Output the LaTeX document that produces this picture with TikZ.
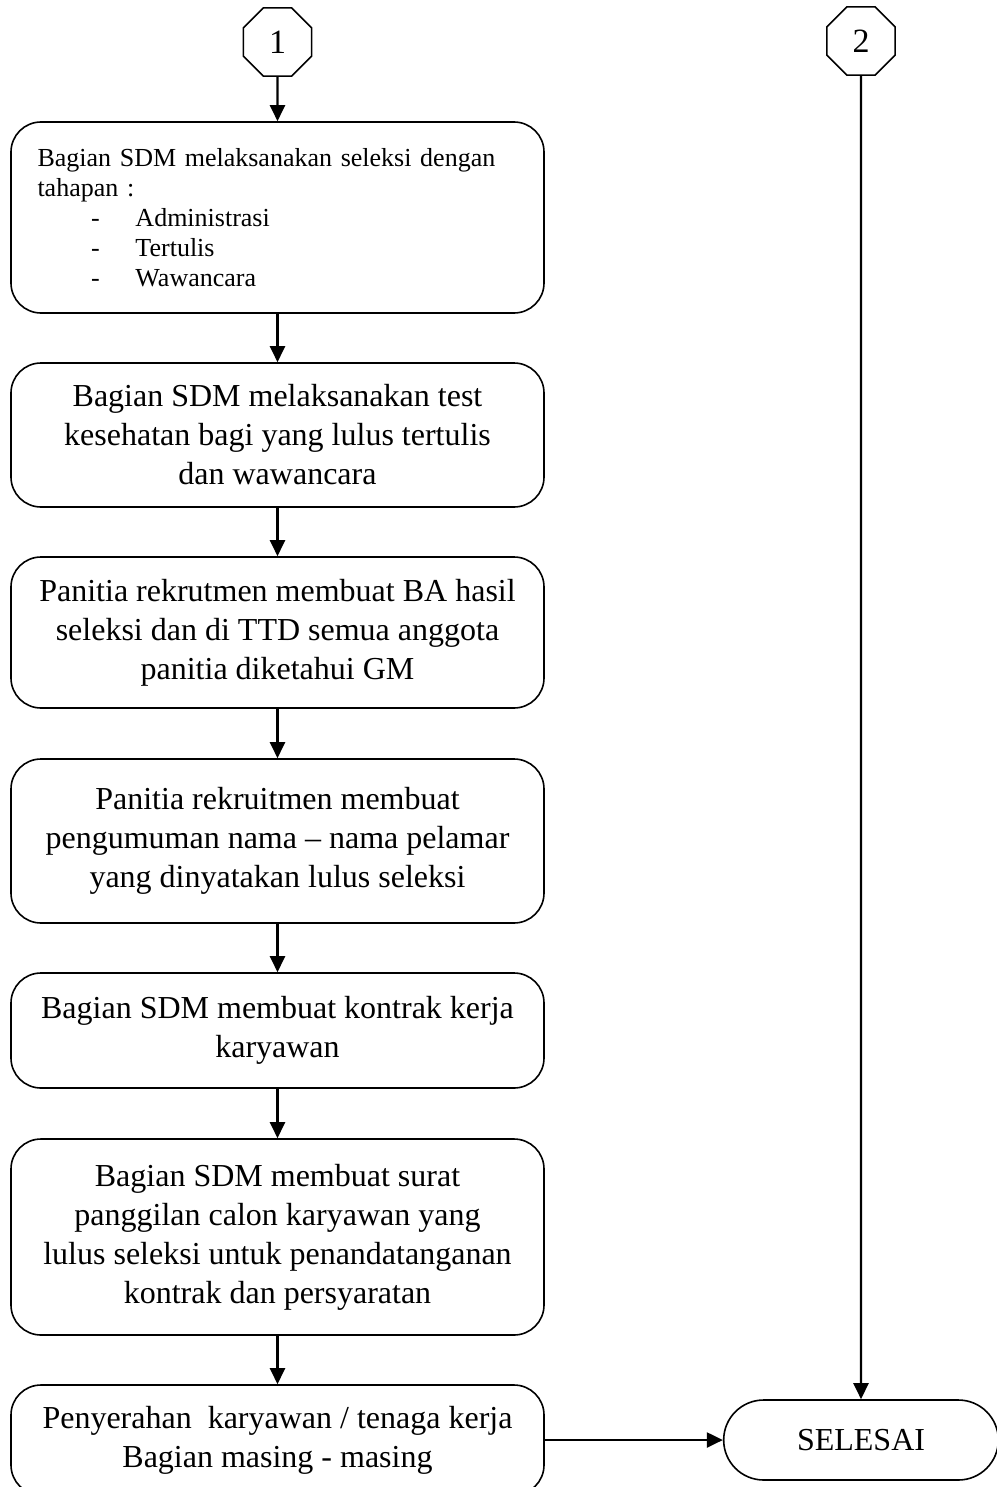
\documentclass[tikz,border=0pt]{standalone}
\usepackage{fontspec}
\setmainfont{Liberation Serif}
\usetikzlibrary{shapes.geometric,shapes.misc,arrows.meta}
\tikzset{
    procbox/.style={draw, line width=0.8pt, rounded corners=15pt, minimum width=266.5pt, minimum height=#1, align=center, font=\fontsize{16pt}{19.5pt}\selectfont},
    connector/.style={line width=1.1pt, -{Triangle[length=8pt,width=7.5pt]}},
    octa/.style={draw, line width=0.8pt, regular polygon, regular polygon sides=8, minimum size=37pt, inner sep=0pt, font=\fontsize{17pt}{19pt}\selectfont},
    terminal/.style={draw, line width=0.8pt, rounded rectangle, minimum width=144pt, minimum height=40pt, font=\fontsize{16pt}{19pt}\selectfont}
}
\newcommand{\tahap}[1]{\hspace*{26.75pt}\makebox[22.25pt][l]{-}#1}
\begin{document}
\begin{tikzpicture}[x=0.5pt,y=0.5pt,yscale=-1]
            \useasboundingbox (0,0) rectangle (996,1487);
            %connectors on top of page
            \node[octa] (o1) at (277.5,42) {1};
            \node[octa] (o2) at (861,41) {2};
            %
            %first box with list
            \node[procbox=95.5pt, align=left, text width=240pt, inner xsep=13.25pt, font=\fontsize{13pt}{15pt}\selectfont] (b1) at (277.5,217.5) {Bagian SDM melaksanakan seleksi dengan\\tahapan :\\\tahap{Administrasi}\\\tahap{Tertulis}\\\tahap{Wawancara}};
            %
            %process boxes
            \node[procbox=72pt] (b2) at (277.5,435) {Bagian SDM melaksanakan test\\kesehatan bagi yang lulus tertulis\\dan wawancara};
            \node[procbox=75.5pt] (b3) at (277.5,632.5) {Panitia rekrutmen membuat BA hasil\\seleksi dan di TTD semua anggota\\panitia diketahui GM};
            \node[procbox=82pt] (b4) at (277.5,841) {Panitia rekruitmen membuat\\pengumuman nama – nama pelamar\\yang dinyatakan lulus seleksi};
            \node[procbox=57.5pt] (b5) at (277.5,1030.5) {Bagian SDM membuat kontrak kerja\\karyawan};
            \node[procbox=98pt] (b6) at (277.5,1237) {Bagian SDM membuat surat\\panggilan calon karyawan yang\\lulus seleksi untuk penandatanganan\\kontrak dan persyaratan};
            \node[procbox=55pt] (b7) at (277.5,1440) {Penyerahan\ \ karyawan / tenaga kerja\\Bagian masing - masing};
            %
            %end
            \node[terminal] (end) at (861,1440) {SELESAI};
            %
            %arrows
            \draw[connector] (o1) -- (b1);
            \draw[connector] (b1) -- (b2);
            \draw[connector] (b2) -- (b3);
            \draw[connector] (b3) -- (b4);
            \draw[connector] (b4) -- (b5);
            \draw[connector] (b5) -- (b6);
            \draw[connector] (b6) -- (b7);
            \draw[connector] (b7) -- (end);
            \draw[connector] (o2) -- (end);
            %
        \end{tikzpicture}
\end{document}
